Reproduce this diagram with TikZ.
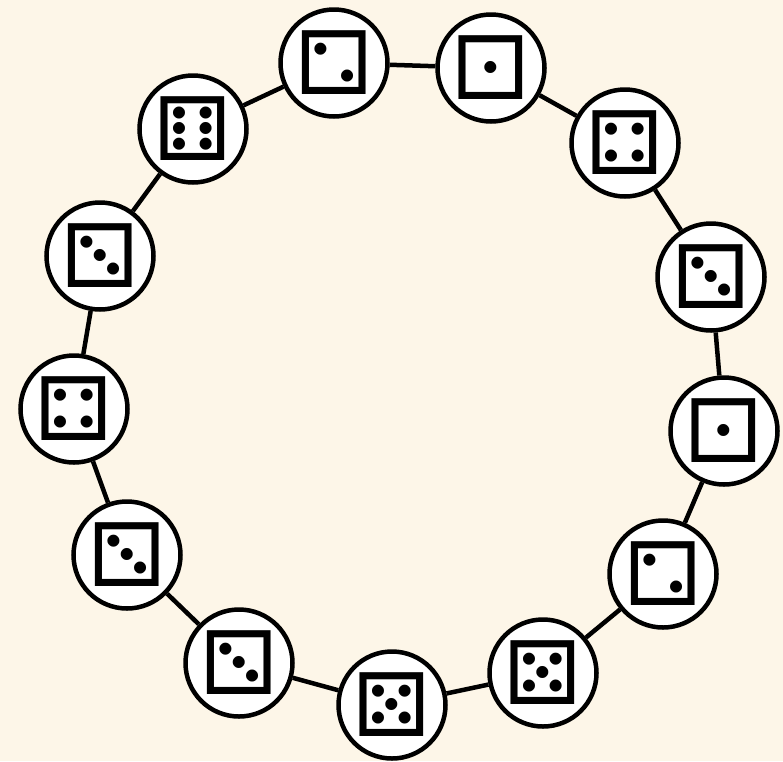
\documentclass[tikz,border=0pt]{standalone}
\usepackage{graphicx}
\usepackage{fontspec}
\newfontfamily\dicefont{DejaVu Sans}
\definecolor{bgcream}{HTML}{FDF6E8}
\newcommand{\mirrordie}[1]{\reflectbox{#1}}
\tikzset{
  dienode/.style={circle, draw=black, line width=4.5pt, fill=white, minimum size=107pt, inner sep=0pt,
    font=\dicefont\fontsize{88}{88}\selectfont},
  link/.style={line width=4.5pt, draw=black}
}
\begin{document}
\begin{tikzpicture}[x=1pt,y=-1pt]
\fill[bgcream] (0,0) rectangle (783,761);
\useasboundingbox (0,0) rectangle (783,761);
\node[dienode] (n1)  at (334,63)  {\mirrordie{⚁}};
\node[dienode] (n2)  at (491,68)  {⚀};
\node[dienode] (n3)  at (625,143) {⚃};
\node[dienode] (n4)  at (711,277) {\mirrordie{⚂}};
\node[dienode] (n5)  at (724,431) {⚀};
\node[dienode] (n6)  at (663,574) {\mirrordie{⚁}};
\node[dienode] (n7)  at (543,673) {⚄};
\node[dienode] (n8)  at (392,705) {⚄};
\node[dienode] (n9)  at (239,663) {\mirrordie{⚂}};
\node[dienode] (n10) at (127,555) {\mirrordie{⚂}};
\node[dienode] (n11) at (74,409)  {⚃};
\node[dienode] (n12) at (100,256) {\mirrordie{⚂}};
\node[dienode] (n13) at (193,129) {⚅};
\foreach \a/\b in {n1/n2,n2/n3,n3/n4,n4/n5,n5/n6,n6/n7,n7/n8,n8/n9,n9/n10,n10/n11,n11/n12,n12/n13,n13/n1}
  \draw[link] (\a) -- (\b);
\end{tikzpicture}
\end{document}
